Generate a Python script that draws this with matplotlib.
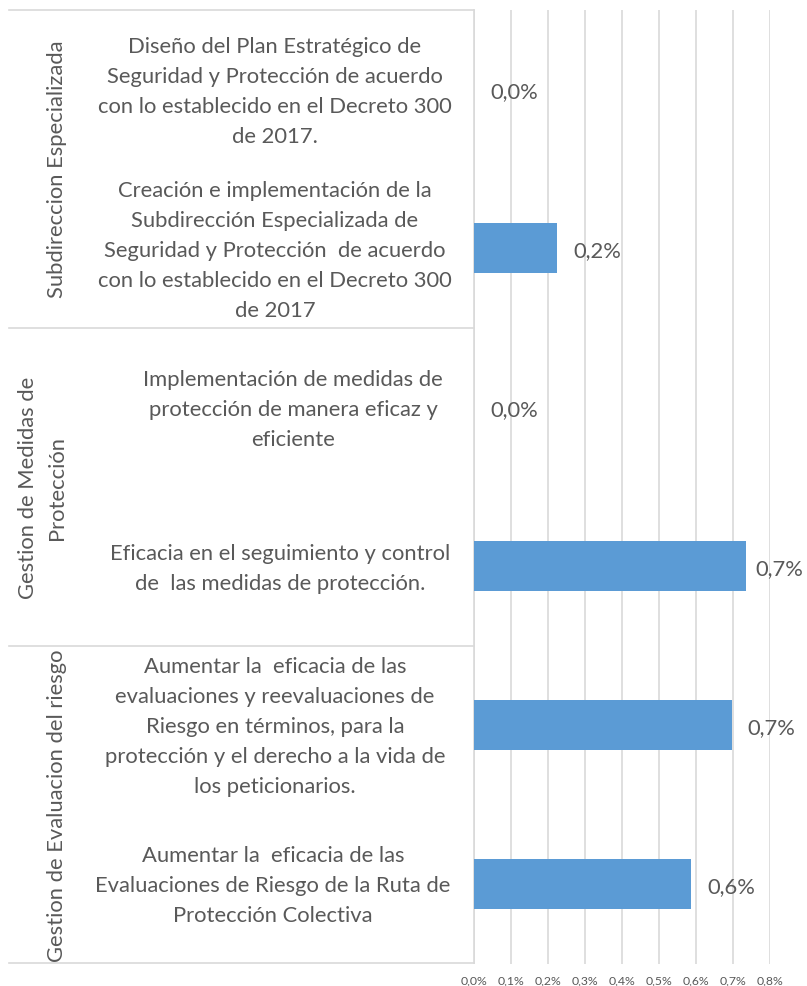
import matplotlib
matplotlib.use('Agg')
import matplotlib.pyplot as plt
from matplotlib.transforms import blended_transform_factory, offset_copy
from matplotlib.lines import Line2D

# ---------------- data ----------------
groups = ['Subdireccion Especializada',
          'Gestion de Medidas de\nProtección',
          'Gestion de Evaluacion del riesgo']
group_sizes = [2, 2, 2]
categories = [
    'Diseño del Plan Estratégico de\nSeguridad y Protección de acuerdo\ncon lo establecido en el Decreto 300\nde 2017.',
    'Creación e implementación de la\nSubdirección Especializada de\nSeguridad y Protección  de acuerdo\ncon lo establecido en el Decreto 300\nde 2017',
    'Implementación de medidas de\nprotección de manera eficaz y\neficiente',
    'Eficacia en el seguimiento y control\nde  las medidas de protección.',
    'Aumentar la  eficacia de las\nevaluaciones y reevaluaciones de\nRiesgo en términos, para la\nprotección y el derecho a la vida de\nlos peticionarios.',
    'Aumentar la  eficacia de las\nEvaluaciones de Riesgo de la Ruta de\nProtección Colectiva',
]
values = [0.0, 0.225, 0.0, 0.735, 0.697, 0.588]   # percent
xticks = [0.0, 0.1, 0.2, 0.3, 0.4, 0.5, 0.6, 0.7, 0.8]
xtick_labels = ['0,0%', '0,1%', '0,2%', '0,3%', '0,4%', '0,5%', '0,6%', '0,7%', '0,8%']

# ---------------- style / layout ----------------
W, H = 807, 987
FONT = 'Lato'
TXT = '#595959'
GRID = '#D9D9D9'
BAR = '#5B9BD5'
label_cx = [275, 275, 293, 280, 275, 273]   # pixel x centres of category labels
LINE_PITCH = 30
AX_L, AX_R, AX_T, AX_B = 474.3, 769.7, 10.5, 964.5

fig = plt.figure(figsize=(W / 100, H / 100), dpi=100)
ax = fig.add_axes([AX_L / W, 1 - AX_B / H, (AX_R - AX_L) / W, (AX_B - AX_T) / H])

ypos = list(range(len(categories)))
ax.barh(ypos, values, height=0.31, color=BAR, zorder=3)
ax.set_xlim(0, 0.8)
ax.set_ylim(len(categories) - 0.5, -0.5)

# font size fitting
renderer = fig.canvas.get_renderer()
probe = fig.text(0, 0, 'con lo establecido en el Decreto 300', fontsize=16, family=FONT)
pw = probe.get_window_extent(renderer).width
probe.remove()
fs = 16 * 355 / pw
fs_tick = fs * 0.56

ax.set_xticks(xticks)
ax.set_xticklabels(xtick_labels, fontsize=fs_tick, color=TXT, family=FONT)
ax.tick_params(axis='x', length=0, pad=8)
ax.set_yticks([])
for s in ['top', 'right', 'bottom']:
    ax.spines[s].set_visible(False)
ax.spines['left'].set_color(GRID)
ax.spines['left'].set_linewidth(1.2)
ax.grid(axis='x', color=GRID, linewidth=1.2)
ax.set_axisbelow(True)

trans = blended_transform_factory(fig.transFigure, ax.transData)

# separator lines in the category area
bounds = [-0.5]
acc = -0.5
for g in group_sizes:
    acc += g
    bounds.append(acc)
for b in bounds:
    fig.add_artist(Line2D([9 / W, AX_L / W], [b, b], transform=trans,
                          color=GRID, linewidth=1.2, clip_on=False))

# category labels (one text per line)
for i, cat in enumerate(categories):
    lines = cat.split('\n')
    n = len(lines)
    for j, line in enumerate(lines):
        dy = (j - (n - 1) / 2) * LINE_PITCH + 7.5
        tr = offset_copy(trans, fig=fig, x=0, y=-dy, units='dots')
        fig.text(label_cx[i] / W, i, line, transform=tr, ha='center', va='baseline',
                 fontsize=fs, color=TXT, family=FONT)

# group labels
start = 0
for g, size in zip(groups, group_sizes):
    yc = start + (size - 1) / 2
    lines = g.split('\n')
    n = len(lines)
    for j, line in enumerate(lines):
        xc = 57 - (n - 1 - j) * 29
        fig.text(xc / W, yc, line, transform=trans, rotation=90, ha='center',
                 va='center', fontsize=fs, color=TXT, family=FONT)
    start += size

# data labels
for i, v in enumerate(values):
    s = f'{v:.1f}'.replace('.', ',') + '%'
    t = ax.text(v, i, s, fontsize=fs, color=TXT, family=FONT, ha='left', va='baseline')
    w = t.get_window_extent(renderer).width
    bar_end = ax.transData.transform((v, 0))[0]
    dx = min(16, (803 - bar_end) - w)
    t.set_transform(offset_copy(ax.transData, fig=fig, x=dx, y=-8.5, units='dots'))
    t.set_clip_on(False)

fig.savefig('out.png', dpi=100)
